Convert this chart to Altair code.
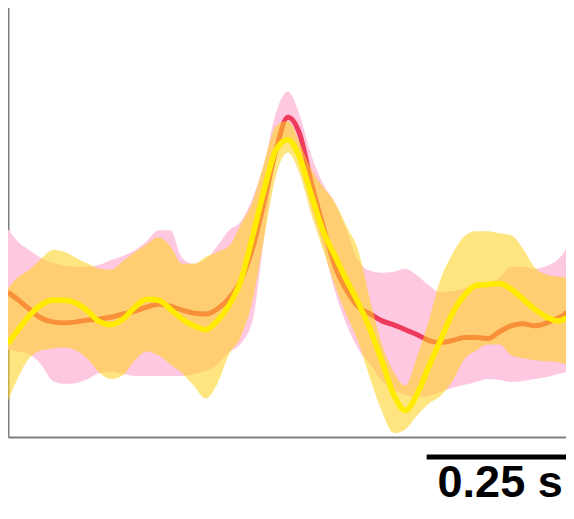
import altair as alt
import pandas as pd

# time (ms) relative to the peak
time_ms = list(range(-480, 481, 20)) + [486]

# series 1 (pink band, red mean)
red_mean = [2.3, 1.6, 0.6, -0.3, -0.7, -0.8, -0.7, -0.5, -0.4, -0.2,
            0.1, 0.4, 0.8, 1.1, 0.9, 0.5, 0.2, 0.1, 0.6, 1.7,
            3.5, 6.8, 11.6, 16.8, 20.1, 18.4, 13.4, 9.0, 5.0, 2.5,
            0.8, 0.1, -0.6, -1.0, -1.5, -2.0, -2.6, -2.8, -2.6, -2.3,
            -2.3, -2.4, -1.7, -1.1, -0.9, -1.1, -0.8, -0.3, 0.2, 0.4]
pink_upper = [8.7, 7.5, 6.6, 5.8, 5.3, 5.0, 4.9, 4.9, 5.1, 5.6,
              6.0, 6.6, 7.5, 8.6, 8.6, 5.8, 5.2, 5.6, 7.0, 8.6,
              9.5, 11.9, 15.5, 20.6, 22.7, 20.3, 16.2, 13.3, 11.4, 8.5,
              5.5, 4.5, 4.3, 4.4, 4.7, 4.0, 3.0, 2.3, 2.4, 2.7,
              2.9, 3.2, 3.8, 4.9, 4.9, 4.7, 5.0, 5.7, 6.8, 7.0]
pink_lower = [-3.5, -3.7, -4.0, -5.0, -6.7, -7.0, -6.9, -6.5, -5.9, -5.8,
              -6.0, -6.2, -6.2, -6.2, -6.2, -6.2, -6.0, -5.7, -5.0, -3.8,
              -2.9, -0.5, 8.0, 16.0, 17.9, 15.5, 11.0, 7.0, 2.4, -1.0,
              -3.5, -5.0, -6.7, -7.6, -8.1, -8.3, -8.2, -7.8, -7.4, -7.1,
              -6.8, -6.5, -6.6, -6.8, -6.7, -6.5, -6.3, -6.0, -5.8, -5.7]

# series 2 (yellow band, yellow mean)
yellow_mean = [-2.9, -1.6, -0.1, 1.0, 1.5, 1.5, 1.2, 0.4, -0.7, -1.0,
               -0.4, 0.8, 1.6, 1.5, 0.6, -0.4, -1.1, -1.5, -0.6, 1.0,
               3.5, 8.0, 12.8, 16.8, 17.8, 16.0, 12.2, 8.5, 6.0, 3.5,
               1.2, -1.5, -4.7, -8.1, -9.7, -8.0, -5.2, -2.5, 0.2, 2.0,
               3.0, 3.1, 3.2, 2.6, 1.6, 0.6, -0.2, -0.6, -0.3, -0.1]
yellow_upper = [2.7, 3.8, 4.6, 5.7, 6.6, 6.4, 5.8, 5.2, 4.7, 4.6,
                5.5, 6.4, 7.2, 7.9, 7.0, 5.2, 5.2, 5.9, 6.4, 7.0,
                9.2, 11.5, 15.5, 19.2, 19.7, 17.5, 14.8, 13.0, 11.4, 9.0,
                6.5, 1.5, -3.0, -5.8, -7.2, -4.2, -0.5, 3.7, 6.2, 8.0,
                8.5, 8.5, 8.3, 8.1, 6.7, 4.8, 4.1, 3.9, 3.8, 3.8]
yellow_lower = [-8.7, -6.5, -4.4, -3.6, -3.4, -3.3, -3.6, -4.5, -5.9, -6.5,
                -6.1, -4.6, -3.7, -4.1, -5.0, -5.9, -7.2, -8.5, -7.0, -4.0,
                -2.2, 1.5, 8.0, 14.2, 16.5, 14.3, 10.2, 6.6, 3.0, 0.0,
                -2.8, -6.5, -9.8, -12.0, -11.6, -10.2, -9.0, -8.2, -6.7, -4.5,
                -3.6, -3.0, -3.0, -4.1, -4.4, -4.6, -4.7, -4.8, -5.0, -5.0]

# scale bar (ms)
bar_start = [236]
bar_end = [486]
bar_label = ["0.25 s"]

df = pd.DataFrame({
    "t": time_ms,
    "red": red_mean, "pu": pink_upper, "pl": pink_lower,
    "yel": yellow_mean, "yu": yellow_upper, "yl": yellow_lower,
})
bar_df = pd.DataFrame({"s": bar_start, "e": bar_end, "label": bar_label,
                       "c": [(a + b) / 2 for a, b in zip(bar_start, bar_end)]})

xs = alt.Scale(domain=[-476, 473], nice=False, zero=False, clamp=True)
ys = alt.Scale(domain=[-12.4, 31.5], nice=False, zero=False)

base = alt.Chart(df)
X = alt.X("t:Q", scale=xs, title=None)

pink = base.mark_area(color="#FFC8E1", opacity=1, interpolate="monotone").encode(
    x=X, y=alt.Y("pu:Q", scale=ys, title=None), y2="pl:Q")
red = base.mark_line(color="#EE3A5C", strokeWidth=5, interpolate="monotone").encode(
    x=X, y=alt.Y("red:Q", scale=ys, title=None))
yband = base.mark_area(color="#FFD21E", opacity=0.57, interpolate="monotone").encode(
    x=X, y=alt.Y("yu:Q", scale=ys, title=None), y2="yl:Q")
yline = base.mark_line(color="#FFEB00", strokeWidth=5.5, interpolate="monotone").encode(
    x=X, y=alt.Y("yel:Q", scale=ys, title=None))

bar = alt.Chart(bar_df).mark_rule(color="black", strokeWidth=5).encode(
    x=alt.X("s:Q", scale=xs, title=None), x2="e:Q", y=alt.value(452))
txt = alt.Chart(bar_df).mark_text(
    font="Liberation Sans", fontWeight="bold", fontSize=45, color="black",
    align="center", baseline="alphabetic").encode(
    x=alt.X("c:Q", scale=xs, title=None), y=alt.value(492), text="label:N")

chart = alt.layer(pink, red, yband, yline, bar, txt).properties(
    width=558, height=432,
    padding={"left": 0, "top": -3, "right": 0, "bottom": 70},
    autosize=alt.AutoSizeParams(type="none"),
).configure_axis(
    labels=False, ticks=False, grid=False, domainColor="#7f7f7f", domainWidth=2
).configure_view(stroke=None)

chart.save("out.html", embed_options={"renderer": "svg", "actions": False})
